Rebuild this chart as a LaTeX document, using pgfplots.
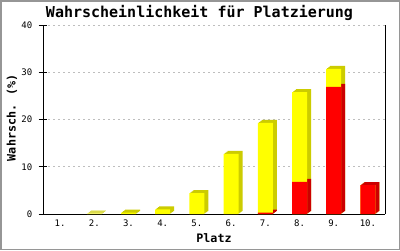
\documentclass[border=0pt]{standalone}
\usepackage{fontspec}
\usepackage{pgfplots}
\usepackage{pgfplotstable}
\pgfplotsset{compat=1.18}
\newfontfamily\dvm{DejaVu Sans Mono}
\definecolor{yel}{RGB}{255,255,0}
\definecolor{dyel}{RGB}{204,204,0}
\definecolor{rd}{RGB}{255,0,0}
\definecolor{drd}{RGB}{204,0,0}
\definecolor{gridg}{RGB}{190,190,190}
\definecolor{frameg}{RGB}{150,150,150}
\pgfplotstableread{
x total red
1 nan nan
2 0.1 nan
3 0.3 nan
4 1.0 nan
5 4.4 nan
6 12.7 nan
7 19.3 0.3
8 25.8 6.8
9 30.7 26.9
10 6.1 6.1
}\data
\begin{document}
\begin{tikzpicture}
\useasboundingbox (0,0) rectangle (400pt,250pt);
\fill[white] (0,0) rectangle (400pt,250pt);
\begin{axis}[
  at={(43pt,36pt)}, anchor=south west,
  scale only axis, width=342pt, height=189pt,
  xmin=0.5, xmax=10.5, ymin=0, ymax=40,
  unbounded coords=discard,
  axis x line*=bottom, axis y line*=box,
  axis line style={black, line width=1pt},
  ytick={0,10,20,30,40}, ytick pos=left,
  ytick align=center, major tick length=9pt,
  y tick style={black, line width=1pt},
  xtick={1,...,10},
  xticklabels={1.,2.,3.,4.,5.,6.,7.,8.,9.,10.},
  x tick style={draw=none},
  ymajorgrids,
  grid style={gridg, line width=0.8pt, dash pattern=on 2pt off 3pt},
  /pgf/number format/assume math mode=true,
  tick label style={font=\dvm\fontsize{9}{9}\selectfont},
  xticklabel style={anchor=center, yshift=0pt},
  yticklabel style={anchor=east, inner sep=0pt, xshift=-6pt},
  title={Wahrscheinlichkeit für Platzierung},
  title style={font=\dvm\bfseries\fontsize{15}{15}\selectfont, at={(axis description cs:0.4576,1)}, anchor=base, yshift=1.5pt},
  xlabel={Platz},
  xlabel style={font=\dvm\bfseries\fontsize{11.7}{11.7}\selectfont, at={(axis description cs:0.5,-0.127)}, anchor=center},
  ylabel={Wahrsch. (\%)},
  ylabel style={font=\dvm\bfseries\fontsize{11.7}{11.7}\selectfont, at={(axis description cs:-0.0906,0.51)}, anchor=center},
  ybar, bar width=15pt, bar shift=0pt,
  clip=false,
]
\addplot[fill=dyel, draw=none, xshift=1pt, yshift=0.75pt] table[x=x,y=total]{\data};
\addplot[fill=dyel, draw=none, xshift=2pt, yshift=1.5pt] table[x=x,y=total]{\data};
\addplot[fill=dyel, draw=none, xshift=3pt, yshift=2.25pt] table[x=x,y=total]{\data};
\addplot[fill=dyel, draw=none, xshift=4pt, yshift=3pt] table[x=x,y=total]{\data};
\addplot[fill=drd, draw=none, xshift=1pt, yshift=0.75pt] table[x=x,y=red]{\data};
\addplot[fill=drd, draw=none, xshift=2pt, yshift=1.5pt] table[x=x,y=red]{\data};
\addplot[fill=drd, draw=none, xshift=3pt, yshift=2.25pt] table[x=x,y=red]{\data};
\addplot[fill=drd, draw=none, xshift=4pt, yshift=3pt] table[x=x,y=red]{\data};
\addplot[fill=yel, draw=none] table[x=x,y=total]{\data};
\addplot[fill=rd, draw=none] table[x=x,y=red]{\data};
\end{axis}
\draw[frameg, line width=1.5pt] (0.75pt,0.75pt) rectangle (399.25pt,249.25pt);
\end{tikzpicture}
\end{document}
